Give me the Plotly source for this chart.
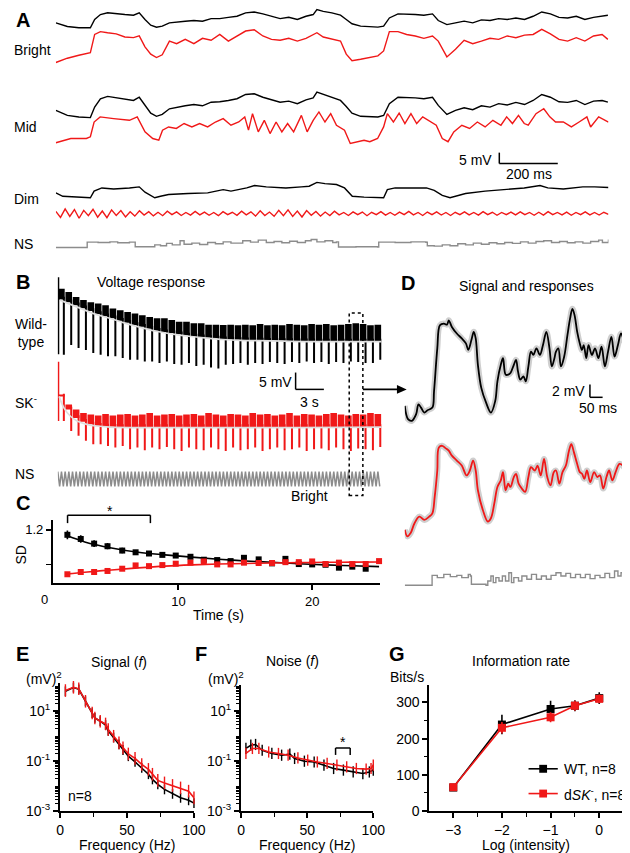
import plotly.graph_objects as go

W, H = 630, 853
FONT = "Liberation Sans, Arial, sans-serif"
RED = "#f01818"
GREY = "#8c8c8c"


def px(x):
    return x / W


def py(y):
    return 1 - y / H


# ---------------- Panel A: responses to naturalistic stimulus (ms, mV-ish units) ----------------
a_t = [0, 40, 80, 120, 135, 155, 180, 210, 240, 270, 290, 310, 330, 350, 370, 395, 420, 450, 480, 510,
       540, 570, 600, 630, 660, 690, 720, 750, 780, 810, 840, 870, 895, 908, 930, 960, 990, 1010, 1030, 1060,
       1090, 1120, 1140, 1160, 1190, 1220, 1250, 1280, 1310, 1330, 1360, 1390, 1420, 1450, 1480, 1510, 1540,
       1570, 1600, 1630, 1660, 1690, 1720, 1750, 1780, 1810, 1840, 1870, 1900, 1920]
bright_black = [2.3, 0.6, 0, 0, 3.9, 6.2, 7, 6.5, 6.2, 5.9, 7, 3.9, 1.2, 0.3, 0.8, 2.3, 2.8, 3.1, 3.4, 3.1,
                4.3, 4.3, 4.9, 5.4, 7, 7.4, 6.5, 5.4, 4.3, 4.9, 3.9, 5.4, 6.2, 8.5, 7.7, 7, 5.9, 3.9, 1.9, 0.8,
                0.6, 0.3, 0.8, 4.6, 6.5, 6.5, 6.2, 5.9, 6.5, 3.4, 1.5, 2.3, 3.1, 2.3, 3.7, 3.4, 4.3, 3.9, 4.6,
                3.9, 5.4, 7.4, 6.5, 4.9, 4.6, 5.4, 3.9, 4.9, 5.4, 5.9]
bright_red = [0, 2.0, 3.4, 4.6, 13.1, 14.4, 13.9, 13.4, 11.9, 11.6, 12.4, 7.3, 3.9, 2.3, 3.6, 10.0, 8.8, 10.8,
              8.8, 11.3, 10.4, 13.1, 10.0, 12.4, 14.7, 15.3, 12.4, 10.8, 10.4, 11.3, 10.0, 11.3, 13.1, 13.9,
              11.9, 10.8, 10.0, 3.9, 0.8, 1.5, 2.3, 3.1, 5.4, 14.4, 14.4, 13.1, 12.4, 11.3, 12.4, 10.0, 2.6,
              6.2, 10.4, 8.8, 10.0, 11.3, 10.8, 12.4, 11.6, 12.8, 13.1, 15.5, 13.4, 10.8, 10.0, 11.6, 10.0,
              12.4, 13.1, 10.8]
mid_black = [3.9, 1.5, 0.8, 0.5, 5.4, 9.3, 10.4, 9.7, 9.3, 8.5, 10.0, 6.2, 2.6, 1.1, 2.0, 4.6, 5.4, 6.0, 6.6,
             6.0, 7.7, 7.9, 8.5, 9.3, 11.3, 11.6, 10.0, 8.8, 7.7, 8.2, 7.0, 8.8, 9.7, 12.4, 11.3, 10.0, 8.5,
             5.7, 2.6, 1.1, 0.8, 0.8, 1.5, 7.0, 10.0, 10.0, 9.7, 9.3, 10.0, 6.2, 2.0, 3.9, 5.1, 4.2, 6.0, 5.4,
             7.0, 6.4, 7.6, 6.6, 8.5, 11.3, 10.0, 7.9, 7.6, 8.5, 6.6, 8.2, 8.5, 7.7]
mid_red_t = [0, 52, 106, 120, 133, 154, 201, 256, 283, 310, 337, 358, 371, 392, 419, 446, 473, 500, 528, 555,
             582, 609, 636, 657, 670, 684, 704, 725, 745, 766, 786, 806, 827, 854, 874, 895, 915, 936, 956, 976,
             1004, 1024, 1072, 1092, 1119, 1140, 1153, 1174, 1194, 1214, 1235, 1255, 1276, 1303, 1323, 1344,
             1364, 1384, 1412, 1439, 1466, 1493, 1520, 1548, 1568, 1588, 1609, 1629, 1643, 1670, 1697, 1718,
             1738, 1765, 1793, 1820, 1847, 1860, 1888, 1922]
mid_red = [0.3, 2.3, 2.3, 3.1, 10.0, 12.4, 11.6, 10.8, 12.4, 5.4, 2.3, 1.5, 6.2, 7.7, 7.0, 9.3, 7.7, 9.3, 7.7,
           10.0, 11.6, 8.5, 10.0, 12.4, 6.2, 13.9, 5.4, 10.8, 4.6, 10.0, 5.4, 9.3, 5.4, 13.1, 5.4, 10.8, 14.7,
           10.0, 13.9, 8.5, 6.2, 0, 1.5, 0.8, 2.3, 7.7, 13.9, 10.0, 14.2, 9.3, 13.9, 9.3, 12.4, 10.0, 8.5, 2.3,
           0.8, 5.4, 8.5, 7.0, 10.0, 7.7, 10.8, 8.5, 12.4, 9.3, 13.1, 9.3, 8.5, 13.9, 16.2, 12.4, 10.0, 10.0,
           7.7, 10.0, 12.4, 7.7, 12.4, 10.0]
dim_black_t = [0, 24, 120, 133, 160, 201, 256, 290, 310, 344, 364, 392, 460, 528, 582, 609, 664, 691, 732, 800,
               854, 881, 908, 936, 976, 1004, 1031, 1072, 1140, 1153, 1180, 1235, 1289, 1316, 1344, 1371, 1398,
               1425, 1493, 1561, 1629, 1684, 1711, 1765, 1833, 1874, 1922]
dim_black = [3.1, 1.5, 0.8, 3.9, 5.4, 4.9, 5.4, 5.9, 3.4, 0.8, 1.5, 2.3, 2.8, 3.1, 4.6, 3.9, 5.4, 6.5, 5.9, 5.4,
             5.9, 6.2, 8.0, 7.4, 7.0, 5.4, 1.5, 1.1, 0.8, 4.6, 5.4, 5.4, 5.4, 4.3, 1.9, 0.8, 1.9, 2.8, 3.9, 4.6,
             5.4, 6.5, 5.4, 4.9, 5.9, 5.9, 5.6]
dim_red = [1.0, -1.8, 2.2, -1.3, 1.9, -2.2, 1.5, -1.0, 2.0, -1.7, 1.2, -1.9, 1.7, -0.9, 1.4, -1.6, 0.8, -1.2, 1.3, -0.7,
           0.9, -1.1, 0.6, -1.0, 1.1, -0.5, 0.8, -0.9, 0.5, -0.7, 1.0, -0.6, 0.7, -0.8, 0.5, -1.0, 0.9, -0.5, 0.6, -0.8,
           1.1, -0.6, 0.8, -1.2, 1.3, -0.9, 0.7, -1.3, 1.5, -1.0, 1.7, -1.3, 1.2, -1.6, 1.4, -0.8, 1.0, -1.2, 0.7, -0.9,
           1.1, -0.6, 0.5, -0.9, 0.8, -0.5, 0.7, -1.0, 0.6, -0.5, 0.9, -0.7, 0.5, -0.8, 0.7, -0.5, 1.0, -0.6, 0.5, -0.9,
           0.7, -0.5, 0.8, -0.7, 0.5, -0.9, 0.6, -0.5, 0.8, -0.6, 0.5, -0.7, 0.9, -0.5, 0.6, -0.8, 0.5, -0.5, 0.7, -0.6,
           0.8, -0.5, 0.5, -0.8, 0.6, -0.7, 0.9, -0.5, 0.5, -0.6, 0.7, -0.8, 0.5, -0.5, 0.8, -0.6, 0.5, -0.7, 0.6, -0.4]
ns_a_t = [0, 106, 109, 147, 188, 215, 256, 269, 276, 337, 344, 364, 385, 405, 432, 446, 473, 500, 528, 555, 582,
          609, 650, 677, 704, 732, 759, 786, 813, 840, 868, 888, 908, 936, 963, 976, 983, 1044, 1119, 1123, 1180,
          1235, 1287, 1292, 1316, 1344, 1371, 1398, 1425, 1452, 1480, 1507, 1534, 1561, 1588, 1616, 1643, 1670,
          1697, 1724, 1752, 1779, 1806, 1833, 1860, 1888, 1901, 1922]
ns_a = [0, 0, 2.5, 2.3, 2.6, 2.2, 2.5, 2.5, 0.3, 0.3, 1.2, 0.8, 1.9, 1.2, 3.1, 1.5, 2.0, 1.4, 2.3, 1.7, 2.6, 2.0,
        3.1, 2.5, 3.4, 2.3, 2.8, 2.2, 2.9, 2.3, 3.1, 3.7, 2.6, 3.1, 2.3, 2.6, 0.2, 0.3, 0.2, 2.5, 2.3, 2.6, 2.4,
        0.8, 0.6, 1.2, 0.8, 1.7, 1.2, 2.0, 1.5, 2.2, 1.7, 2.3, 1.9, 2.6, 2.0, 2.8, 3.1, 2.3, 2.8, 2.2, 2.6, 2.0,
        2.8, 3.4, 2.3, 3.7]

# ---------------- Panel B: voltage response to repeated stimulus (per cycle, mV) ----------------
b_period = 0.78  # s between repeats
wt_onset = [19.1, -3.8]
wt_top = [15.7, 14.7, 13.2, 12.3, 11.7, 11.3, 10.8, 9.8, 9.3, 8.8, 8.3, 7.8, 7.3, 6.9, 6.9, 6.4, 5.9, 5.9, 5.4,
          5.4, 5.0, 5.0, 4.9, 5.0, 4.8, 5.0, 4.8, 5.2, 4.8, 5.0, 4.8, 5.2, 5.0, 4.8, 5.2, 5.0, 5.2, 4.8, 5.0, 5.2,
          5.4, 5.2, 4.8, 5.0]
wt_base = [12.5, 11.7, 10.8, 9.9, 9.1, 8.2, 7.5, 6.9, 6.2, 5.6, 4.9, 4.4, 3.8, 3.2, 2.8, 2.5, 2.2, 1.8, 1.5, 1.3,
           1.1, 0.9, 0.7, 0.6, 0.5, 0.4, 0.35, 0.3, 0.25, 0.2, 0.2, 0.15, 0.1, 0.1, 0.1, 0.05, 0, 0, 0, 0, 0, 0,
           0, 0]
wt_bottom = [-3.9, -1.0, -1.9, -2.5, -3.4, -3.9, -4.4, -4.4, -4.9, -5.4, -5.4, -5.9, -5.9, -6.4, -5.9, -6.7,
             -6.9, -6.4, -7.3, -6.9, -7.7, -8.0, -6.9, -6.7, -6.4, -6.9, -6.4, -6.7, -6.1, -6.4, -6.7, -6.1,
             -6.4, -5.9, -6.4, -6.1, -6.7, -6.1, -6.4, -5.9, -6.1, -6.4, -6.4, -5.4]
wt_fit_t = [0.24, 2.0, 3.8, 5.5, 7.2, 8.9, 10.7, 12.4, 14.1, 15.8, 17.5, 19.3, 22.7, 26.2, 34.3]
wt_fit = [12.3, 10.3, 8.3, 6.9, 5.4, 4.1, 2.9, 2.1, 1.5, 1.0, 0.6, 0.35, 0.2, 0.0, 0.0]
sk_onset = [19.4, 1.8]
sk_top = [9.6, 6.7, 5.2, 4.2, 3.7, 3.4, 3.9, 3.4, 3.7, 3.9, 3.4, 3.7, 4.2, 3.4, 3.7, 3.9, 3.4, 3.7, 3.9, 3.4,
          4.2, 3.7, 3.4, 3.9, 3.7, 3.4, 4.2, 3.7, 3.9, 3.4, 3.7, 4.2, 3.4, 3.9, 3.7, 3.4, 3.9, 4.2, 3.7, 3.4,
          3.9, 3.7, 4.2, 3.9]
sk_base = [9.1, 5.2, 2.7, 1.6, 0.8, 0.4, 0.2, 0.1, 0, 0, 0, 0, 0, 0, 0, 0, 0, 0, 0, 0, 0, 0, 0, 0, 0, 0, 0, 0,
           0, 0, 0, 0, 0, 0, 0, 0, 0, 0, 0, 0, 0, 0, 0, 0]
sk_bottom = [1.8, -1.2, -2.6, -4.1, -5.1, -5.1, -5.6, -6.1, -5.6, -6.6, -6.1, -6.9, -6.1, -6.6, -5.9, -6.6,
             -7.1, -6.1, -6.6, -6.9, -6.1, -6.6, -7.1, -6.1, -6.9, -6.6, -6.1, -7.1, -6.6, -6.1, -6.9, -6.6,
             -6.1, -7.1, -6.6, -6.4, -6.9, -6.1, -6.6, -7.1, -6.4, -6.6, -6.9, -5.9]
sk_fit_t = [0.14, 0.65, 1.34, 2.04, 3.07, 4.1, 5.5, 34.3]
sk_fit = [9.1, 5.7, 3.2, 1.8, 0.8, 0.3, 0.0, 0.0]
ns_b_top, ns_b_bottom = 2.2, -2.2

# ---------------- Panel C: SD over time ----------------
c_time_wt = [1.7, 2.7, 3.7, 4.7, 5.8, 6.8, 7.8, 8.8, 9.8, 10.9, 11.9, 12.9, 13.9, 14.9, 16.0, 17.0, 18.0,
             19.0, 20.0, 21.0, 22.0, 23.0, 24.0]
c_sd_wt = [1.171, 1.147, 1.12, 1.105, 1.08, 1.07, 1.063, 1.055, 1.051, 1.044, 1.027, 1.025, 1.019, 1.038,
           1.029, 1.006, 1.032, 1.002, 1.0, 0.998, 0.981, 0.987, 0.975]
c_err_wt = [0.025, 0.022, 0.02, 0.018, 0.016, 0.012, 0.012, 0.01, 0.01, 0.008, 0.008, 0.008, 0.008, 0.01,
            0.008, 0.008, 0.008, 0.008, 0.008, 0.008, 0.01, 0.008, 0.01]
c_time_sk = [1.7, 2.7, 3.7, 4.7, 5.8, 6.8, 7.8, 8.8, 9.8, 10.9, 11.9, 12.9, 13.9, 14.9, 16.0, 17.0, 18.0,
             19.0, 20.0, 21.0, 22.0, 23.0, 24.0, 25.0]
c_sd_sk = [0.943, 0.956, 0.956, 0.962, 0.975, 0.994, 0.99, 0.996, 1.004, 1.01, 1.017, 1.0, 1.0, 1.01, 1.008,
           1.008, 1.013, 1.013, 1.017, 1.002, 1.01, 1.002, 1.002, 1.019]
c_err_sk = [0.008, 0.01, 0.012, 0.012, 0.01, 0.012, 0.01, 0.008, 0.008, 0.008, 0.008, 0.008, 0.008, 0.008,
            0.008, 0.008, 0.008, 0.008, 0.008, 0.008, 0.008, 0.008, 0.008, 0.01]
c_fit_t = [1.7, 3, 5, 7, 9, 11, 13, 15, 17, 19, 21, 23, 25]
c_fit_wt = [1.165, 1.13, 1.095, 1.07, 1.055, 1.042, 1.03, 1.02, 1.012, 1.004, 0.997, 0.992, 0.987]
c_fit_sk = [0.945, 0.955, 0.968, 0.98, 0.99, 0.997, 1.002, 1.005, 1.008, 1.01, 1.012, 1.013, 1.014]

# ---------------- Panel D: signal and responses (ms, mV) ----------------
d_black_t = [0, 12.5, 27.5, 43.75, 52.5, 62.5, 75, 87.5, 106, 112.5, 125, 135, 150, 162.5, 169, 181, 200, 219,
             235, 244, 256, 265, 272.5, 281, 294, 312.5, 331, 347.5, 356, 369, 377.5, 387.5, 397.5, 406, 419,
             427.5, 435, 444, 456, 465, 475, 485, 494, 506, 519, 531, 544, 556, 565, 575, 581, 590, 600, 612.5,
             625, 635, 644, 652.5, 662.5, 672.5, 681, 687.5, 697.5, 706, 719, 731, 744, 756, 769, 781, 794, 806,
             819, 831, 844, 850]
d_black = [2.25, 0.25, 0, 1.0, 2.5, 2.0, 1.25, 1.6, 2.0, 4.5, 11.0, 14.5, 14.75, 14.6, 15.25, 14.25, 13.25,
           12.5, 11.75, 10.75, 12.25, 13.5, 12.5, 8.5, 5.0, 2.75, 1.25, 3.0, 6.0, 8.5, 9.5, 7.0, 7.0, 7.25, 8.5,
           9.25, 7.5, 6.25, 6.75, 6.0, 8.25, 10.5, 10.0, 11.0, 10.0, 11.5, 13.5, 11.0, 8.25, 9.5, 10.5, 11.0,
           8.25, 9.75, 13.0, 15.5, 17.0, 16.0, 13.5, 11.75, 10.75, 11.5, 9.5, 11.5, 10.0, 11.0, 9.5, 11.25,
           8.25, 10.5, 12.75, 9.75, 11.5, 13.25, 12.0, 11.75]
d_red_t = [0, 10, 22.5, 37.5, 56, 75, 94, 106, 115, 125, 131, 144, 156, 169, 181, 200, 219, 237.5, 250, 262.5,
           272.5, 281, 300, 319, 331, 344, 356, 369, 377.5, 387.5, 397.5, 406, 419, 427.5, 437.5, 450, 462.5,
           475, 485, 500, 510, 522.5, 535, 547.5, 560, 572.5, 581, 594, 606, 619, 631, 640, 650, 662.5, 672.5,
           681, 690, 700, 712.5, 727.5, 740, 750, 762.5, 775, 785, 797.5, 810, 825, 837.5, 850]
d_red = [1.5, 0.5, 1.0, 2.5, 3.5, 3.0, 3.5, 4.0, 6.5, 10.5, 14.0, 14.25, 13.9, 13.5, 12.75, 12.0, 11.25, 9.75,
         10.5, 12.0, 10.5, 7.5, 4.5, 2.75, 3.25, 5.5, 8.0, 9.0, 10.25, 7.5, 8.5, 8.0, 9.5, 10.0, 8.5, 7.75, 7.25,
         9.5, 11.0, 10.5, 11.25, 9.75, 12.25, 9.5, 8.25, 10.25, 10.5, 8.5, 10.25, 11.25, 13.5, 14.5, 13.25, 11.5,
         10.25, 10.0, 9.25, 10.5, 8.75, 10.25, 9.5, 9.75, 7.75, 9.5, 10.5, 9.0, 10.25, 11.5, 11.25, 10.5]
d_ns_t = [0, 100, 105, 125, 150, 175, 200, 219, 244, 252, 256, 312, 319, 331, 340, 350, 362, 375, 387, 400, 410,
          419, 437, 450, 469, 487, 506, 525, 544, 562, 581, 600, 619, 637, 656, 675, 694, 712, 731, 750, 769,
          787, 806, 819, 831, 840, 850]
d_ns = [0, 0, 1.5, 1.15, 1.65, 1.3, 1.5, 1.15, 1.65, 1.4, 0.15, 0, 0.65, 1.4, 0.4, 1.15, 0.65, 1.4, 0.65, 1.9,
        0.4, 1.15, 0.65, 1.4, 0.9, 1.65, 0.9, 1.4, 0.9, 1.5, 1.9, 1.4, 1.8, 1.15, 1.65, 1.15, 1.65, 1.0, 1.5,
        1.15, 1.8, 1.15, 2.15, 1.4, 1.9, 2.4, 1.9]

# ---------------- Panels E, F: power spectra ----------------
e_freq = [4, 10, 14, 19, 24, 26, 30, 34, 36, 40, 44, 47, 51, 56, 61, 66, 69, 73, 78, 84, 90, 96, 100]
e_sk = [67.6, 91.2, 79.4, 25.1, 8.5, 5.4, 4.0, 3.1, 1.86, 1.0, 0.54, 0.34, 0.195, 0.129, 0.074, 0.047, 0.030,
        0.017, 0.0135, 0.0107, 0.0085, 0.0063, 0.0034]
e_wt = [63.1, 89.1, 75.9, 25.1, 8.5, 5.4, 4.0, 2.8, 1.66, 0.89, 0.47, 0.28, 0.158, 0.093, 0.054, 0.030, 0.0186,
        0.0117, 0.0074, 0.0049, 0.0034, 0.0027, 0.0021]
f_freq_wt = [3.7, 7.4, 11, 16, 23.3, 30.7, 36.9, 40.5, 47.9, 55.3, 62.7, 70, 77.4, 84.8, 92.1, 97, 100]
f_wt = [0.324, 0.437, 0.468, 0.275, 0.204, 0.174, 0.191, 0.129, 0.1, 0.093, 0.069, 0.051, 0.044, 0.037, 0.032,
        0.037, 0.044]
f_freq_sk = [3.7, 8.6, 13.5, 20.9, 28.3, 35.6, 43, 50.4, 57.7, 65.1, 72.5, 79.9, 87.2, 94.6, 98.3, 100]
f_sk = [0.204, 0.324, 0.324, 0.234, 0.204, 0.174, 0.135, 0.11, 0.093, 0.081, 0.069, 0.059, 0.051, 0.048, 0.051,
        0.069]

# ---------------- Panel G: information rate ----------------
g_log_i = [-3, -2, -1, -0.5, 0]
g_wt = [65, 239, 282, 291, 312]
g_wt_err = [8, 27, 23, 15, 16]
g_sk = [66, 230, 259, 291, 310]
g_sk_err = [8, 16, 14, 14, 12]

fig = go.Figure()


def line(ax, x, y, color, width=1.3, shape="linear", dash=None):
    fig.add_trace(go.Scatter(x=x, y=y, mode="lines", xaxis="x" + ax, yaxis="y" + ax,
                             line=dict(color=color, width=width, shape=shape, dash=dash),
                             hoverinfo="skip", cliponaxis=False))


# ---- A ----
A_SCALE = 2.16


def a_off(base_px):
    return (250 - base_px) / A_SCALE


dim_red_t = [i * 1922 / (len(dim_red) - 1) for i in range(len(dim_red))]
for t, v, col, base, shp in [
    (a_t, bright_black, "black", 20, "linear"),
    (a_t, bright_red, RED, 55, "linear"),
    (a_t, mid_black, "black", 111.7, "linear"),
    (mid_red_t, mid_red, RED, 136.7, "linear"),
    (dim_black_t, dim_black, "black", 193.3, "linear"),
    (dim_red_t, dim_red, RED, 207.5, "linear"),
    (ns_a_t, ns_a, GREY, 241.7, "hv"),
]:
    line("", t, [a_off(base) + val for val in v], col, 1.4, shp)

# ---- B ----
B_SCALE = 3.4


def b_off(base_px):
    return (490 - base_px) / B_SCALE


for top, base, bottom, onset, fit_t, fit, base_px, col in [
    (wt_top, wt_base, wt_bottom, wt_onset, wt_fit_t, wt_fit, 336.7, "black"),
    (sk_top, sk_base, sk_bottom, sk_onset, sk_fit_t, sk_fit, 423, RED),
]:
    off = b_off(base_px)
    n = len(top)
    fig.add_trace(go.Bar(
        x=[i * b_period + 0.38 for i in range(n)],
        y=[t - b for t, b in zip(top, base)],
        base=[off + b for b in base],
        width=0.7, marker=dict(color=col, line=dict(width=0)),
        xaxis="x2", yaxis="y2", hoverinfo="skip"))
    sx, sy = [], []
    for i in range(n):
        xx = i * b_period + 0.64
        sx += [xx, xx, None]
        sy += [off + base[i] + 0.8, off + bottom[i], None]
    sx += [0.05, 0.05, None]
    sy += [off + onset[0], off + onset[1], None]
    line("2", sx, sy, col, 2.0)
    line("2", fit_t, [off + v for v in fit], "#dedede", 1.7, "spline")

ns_off = b_off(475.5)
zx, zy = [], []
for i in range(len(wt_top)):
    for k in range(4):
        zx.append(i * b_period + k * b_period / 4)
        zy.append(ns_off + (ns_b_top if k % 2 == 0 else ns_b_bottom))
line("2", zx, zy, GREY, 1.5)

# ---- D ----
D_SCALE = 6.65


def d_off(base_px):
    return (600 - base_px) / D_SCALE


line("3", d_black_t, [d_off(416.7) + v for v in d_black], "#cfcfcf", 6, "spline")
line("3", d_black_t, [d_off(416.7) + v for v in d_black], "black", 1.8, "spline")
line("3", d_red_t, [d_off(536.7) + v for v in d_red], "#cfcfcf", 6, "spline")
line("3", d_red_t, [d_off(536.7) + v for v in d_red], RED, 1.8, "spline")
line("3", d_ns_t, [d_off(582.7) + v for v in d_ns], GREY, 1.4, "hv")

# ---- C ----
for t, sd, err, ft, fv, col in [
    (c_time_wt, c_sd_wt, c_err_wt, c_fit_t, c_fit_wt, "black"),
    (c_time_sk, c_sd_sk, c_err_sk, c_fit_t, c_fit_sk, RED),
]:
    line("4", ft, fv, col, 1.6, "spline")
    fig.add_trace(go.Scatter(x=t, y=sd, mode="markers", xaxis="x4", yaxis="y4", cliponaxis=False,
                             marker=dict(symbol="square", size=6, color=col),
                             error_y=dict(type="data", array=err, color=col, thickness=1.6, width=0),
                             hoverinfo="skip"))

# ---- E, F ----
for ax, x, y, col, sz in [
    ("5", e_freq, e_wt, "black", 7), ("5", e_freq, e_sk, RED, 9),
    ("6", f_freq_wt, f_wt, "black", 8), ("6", f_freq_sk, f_sk, RED, 8),
]:
    fig.add_trace(go.Scatter(x=x, y=y, mode="lines+markers", xaxis="x" + ax, yaxis="y" + ax,
                             line=dict(color=col, width=1.6),
                             marker=dict(symbol="line-ns-open", size=sz, line=dict(color=col, width=1.4)),
                             cliponaxis=False, hoverinfo="skip"))

# ---- G ----
for y, err, col in [(g_wt, g_wt_err, "black"), (g_sk, g_sk_err, RED)]:
    fig.add_trace(go.Scatter(x=g_log_i, y=y, mode="lines+markers", xaxis="x7", yaxis="y7",
                             line=dict(color=col, width=1.6),
                             marker=dict(symbol="square", size=8, color=col),
                             error_y=dict(type="data", array=err, color=col, thickness=1.6, width=0),
                             cliponaxis=False, hoverinfo="skip"))


# ---- axes ----
def dx(a, b):
    return [px(a), px(b)]


def dy(top, bottom):
    return [py(bottom), py(top)]


def hidden(dom_x, dom_y, rx, ry, ax):
    return (dict(domain=dom_x, range=rx, visible=False, fixedrange=True, anchor="y" + ax),
            dict(domain=dom_y, range=ry, visible=False, fixedrange=True, anchor="x" + ax))


def shown(dom, rng, ax, size=14, **kw):
    d = dict(domain=dom, range=rng, anchor=ax, showline=True, linecolor="black", linewidth=2,
             ticks="outside", ticklen=5, tickwidth=1.5, tickcolor="black", showgrid=False,
             zeroline=False, fixedrange=True, tickfont=dict(family=FONT, size=size, color="black"))
    d.update(kw)
    return d


def minor(vals, length=4):
    return dict(tickvals=vals, ticks="outside", ticklen=length, tickwidth=1.2, tickcolor="black")


axes = {}
for ax, key, dxr, dyr, rx, ry in [
    ("", "", dx(45, 612), dy(0, 250), [0, 1922], [0, 250 / A_SCALE]),
    ("2", "2", dx(47, 380), dy(265, 490), [0, 34.4], [0, 225 / B_SCALE]),
    ("3", "3", dx(403, 630), dy(290, 600), [0, 850], [0, 310 / D_SCALE]),
]:
    xa, ya = hidden(dxr, dyr, rx, ry, ax)
    axes["xaxis" + key] = xa
    axes["yaxis" + key] = ya

log_minor = [m * 10 ** k for k in range(-3, 2) for m in range(1, 10)] + [100]
log_ticks = dict(tickmode="array", tickvals=[0.001, 0.1, 10],
                 ticktext=["10<sup>-3</sup>", "10<sup>-1</sup>", "10<sup>1</sup>"],
                 minor=minor(log_minor, 3))

axes["xaxis4"] = shown(dx(42, 378), [0.62, 25.1], "y4", 13, tickmode="array", tickvals=[10, 20])
axes["yaxis4"] = shown(dy(517.3, 580.7), [0.891, 1.254], "x4", 13, tickmode="array",
                       tickvals=[1.2], ticktext=["1.2"], minor=minor([1.0], 5))
axes["xaxis5"] = shown(dx(49.3, 186.7), [0, 100], "y5", tickmode="array", tickvals=[0, 50, 100],
                       minor=minor([25, 75]))
axes["yaxis5"] = shown(dy(681.7, 810.7), [-3, 2.12], "x5", type="log", **log_ticks)
axes["xaxis6"] = shown(dx(235, 370.7), [0, 100], "y6", tickmode="array", tickvals=[0, 50, 100],
                       minor=minor([25, 75]))
axes["yaxis6"] = shown(dy(683, 810.7), [-3, 2.07], "x6", type="log", **log_ticks)
axes["xaxis7"] = shown(dx(428.3, 630), [-3.49, 0.55], "y7", tickmode="array", tickvals=[-3, -2, -1, 0],
                       minor=minor([-2.5, -1.5, -0.5]))
axes["yaxis7"] = shown(dy(683.3, 810.7), [0, 348.5], "x7", tickmode="array", tickvals=[0, 100, 200, 300],
                       minor=minor([50, 150, 250], 3))

# ---- text ----
annotations = []


def text(s, x, y, size=14, anchor="left", angle=0):
    annotations.append(dict(text=s, x=px(x), y=py(y), xref="paper", yref="paper", xanchor=anchor,
                            yanchor="middle", showarrow=False, textangle=angle,
                            font=dict(family=FONT, size=size, color="black")))


for letter, x, y in [("A", 2, 12), ("B", 2, 277), ("C", 2, 500), ("D", 397, 278), ("E", 2, 652),
                     ("F", 186, 652), ("G", 385, 652)]:
    text("<b>%s</b>" % letter, x, y, 20)

text("Bright", 0, 42)
text("Mid", 0, 120)
text("Dim", 0, 193)
text("NS", 0, 238)
text("5 mV", 495, 153, anchor="right")
text("200 ms", 530, 168, anchor="center")
text("Voltage response", 143, 277, anchor="center")
text("Wild-<br>type", 1, 328)
text("SK<sup>-</sup>", 1, 398)
text("NS", 1, 470)
text("5 mV", 289, 378, anchor="right")
text("3 s", 305, 398, anchor="center")
text("Bright", 305, 493, anchor="center")
text("*", 95, 508)
text("SD", 9, 552, anchor="center", angle=-90)
text("0", 33.5, 597, 13, anchor="center")
text("Time (s)", 212, 613, anchor="center")
text("Signal and responses", 528, 281, anchor="center")
text("2 mV", 590, 387, anchor="right")
text("50 ms", 601, 404, anchor="center")
text("Signal (<i>f</i>)", 110, 660, anchor="center")
text("(mV)<sup>2</sup>", 33, 676, anchor="center")
text("n=8", 55, 795)
text("Frequency (Hz)", 118, 845, anchor="center")
text("Noise (<i>f</i>)", 288, 659, anchor="center")
text("(mV)<sup>2</sup>", 220, 676, anchor="center")
text("*", 335, 741)
text("Frequency (Hz)", 303, 845, anchor="center")
text("Information rate", 522, 659, anchor="center")
text("Bits/s", 386, 675)
text("Log (intensity)", 527, 845, anchor="center")
text("WT, n=8", 564, 768)
text("d<i>SK</i><sup>-</sup>, n=8", 564, 793)

# ---- scale bars, brackets, box, arrow, legend keys ----
shapes = []


def seg(x0, y0, x1, y1, color="black", width=1.5, dash=None):
    shapes.append(dict(type="line", xref="paper", yref="paper", x0=px(x0), y0=py(y0), x1=px(x1),
                       y1=py(y1), line=dict(color=color, width=width, dash=dash)))


seg(500, 146, 500, 157)
seg(500, 157, 560, 157)
seg(291, 368, 291, 385)
seg(291, 385, 320, 385)
seg(593, 380, 593, 393)
seg(593, 393, 606, 393)
seg(57, 512, 142, 512)
seg(57, 512, 57, 520)
seg(142, 512, 142, 520)
seg(332, 747, 347, 747)
seg(332, 747, 332, 754)
seg(347, 747, 347, 754)
seg(360, 385, 396, 385, width=1.6)
shapes.append(dict(type="path", xref="paper", yref="paper", fillcolor="black", line=dict(width=0),
                   path="M %f %f L %f %f L %f %f Z" % (px(405), py(385), px(395), py(380.5),
                                                        px(395), py(389.5))))
shapes.append(dict(type="rect", xref="paper", yref="paper", x0=px(346), x1=px(360), y0=py(492), y1=py(308),
                   line=dict(color="black", width=1.5, dash="dot")))
for yy, col in [(768, "black"), (793, RED)]:
    seg(530, yy, 560, yy, col, 1.6)
    shapes.append(dict(type="rect", xref="paper", yref="paper", x0=px(541), x1=px(549), y0=py(yy + 4),
                       y1=py(yy - 4), fillcolor=col, line=dict(width=0)))

fig.update_layout(
    width=W, height=H, margin=dict(l=0, r=0, t=0, b=0), autosize=False,
    plot_bgcolor="white", paper_bgcolor="white", showlegend=False, barmode="overlay",
    font=dict(family=FONT, size=14, color="black"),
    annotations=annotations, shapes=shapes, **axes)

fig.write_html("out.html")
